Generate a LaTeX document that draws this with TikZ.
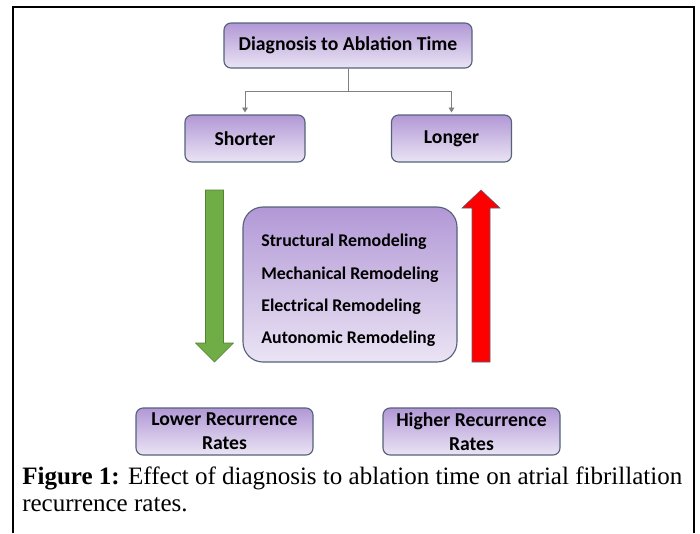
\documentclass[tikz,border=0pt]{standalone}
\usepackage{fontspec}
\setmainfont{Liberation Serif}
\newfontfamily\boxfont{Carlito}
\usetikzlibrary{arrows.meta,positioning}
\definecolor{lavtop}{RGB}{178,152,214}
\definecolor{lavbot}{RGB}{234,228,244}
\definecolor{boxedge}{RGB}{84,98,122}
\definecolor{linkgray}{RGB}{128,128,128}
\definecolor{upred}{RGB}{255,0,0}
\definecolor{downgreen}{RGB}{112,173,71}

\begin{document}
\begin{tikzpicture}[
      stage/.style={draw=boxedge, thick, rounded corners=5pt,
                    top color=lavtop, bottom color=lavbot, inner sep=0pt,
                    font=\boxfont\bfseries\fontsize{14}{17}\selectfont, align=center},
      link/.style={draw=linkgray, semithick,
                   -{Triangle[length=3.5pt, width=4pt]}, shorten >=1.4pt}]
    \useasboundingbox (0,0) rectangle (17.5,-13.325);
    % frame, open at the bottom
    \draw[line width=1.5pt] (0.325,-13.325) |- (17.35,-0.175) -- (17.35,-13.325);
    % question and its two answers
    \node[stage, minimum width=6.2cm, minimum height=1.125cm] (diag) at (8.7,-1.1375)
      {Diagnosis to Ablation Time};
    \node[stage, minimum width=3cm, minimum height=1.175cm] (short) at (6.125,-3.4625) {Shorter};
    \node[stage, minimum width=3cm, minimum height=1.175cm] (long) at (11.2875,-3.4625) {Longer};
    \coordinate[below=0.575cm of diag.south] (fork);
    \draw[draw=linkgray, semithick] (diag) -- (fork);
    \draw[link] (fork) -| (short);
    \draw[link] (fork) -| (long);
    % remodeling in the middle
    \node[stage, rounded corners=0.5cm, minimum width=5.35cm, minimum height=3.875cm]
      (remodel) at (8.75,-7.1125) {};
    \node[align=left, inner sep=0pt, font=\boxfont\bfseries\fontsize{12.7}{23}\selectfont]
      (remodeltxt) at ([yshift=-0.15cm]remodel.center)
      {Structural Remodeling\\Mechanical Remodeling\\Electrical Remodeling\\Autonomic Remodeling};
    % block arrows
    \draw[fill=downgreen, draw=downgreen!75!black]
      (5.1375,-4.75) -- (5.5875,-4.75) -- (5.5875,-8.575) -- (5.8375,-8.575)
      -- (5.3625,-9.05) -- (4.8875,-8.575) -- (5.1375,-8.575) -- cycle;
    \draw[fill=upred, draw=boxedge]
      (11.8,-9.05) -- (12.25,-9.05) -- (12.25,-5.2) -- (12.5,-5.2)
      -- (12.025,-4.75) -- (11.55,-5.2) -- (11.8,-5.2) -- cycle;
    % outcomes
    \node[stage, minimum width=4.425cm, minimum height=1.175cm, text depth=0pt]
      (lower) at (5.6125,-10.7875) {Lower Recurrence\\Rates};
    \node[stage, minimum width=4.425cm, minimum height=1.175cm, text depth=0pt]
      (higher) at (11.7875,-10.7875) {Higher Recurrence\\Rates};
    % caption
    \node[anchor=base west, inner sep=0pt, align=left,
          font=\fontsize{17.8}{19.2}\selectfont] (caption) at (0.55,-12.775)
      {\textbf{Figure 1:} Effect of diagnosis to ablation time on atrial fibrillation\\
       recurrence rates.};
  \end{tikzpicture}
\end{document}
